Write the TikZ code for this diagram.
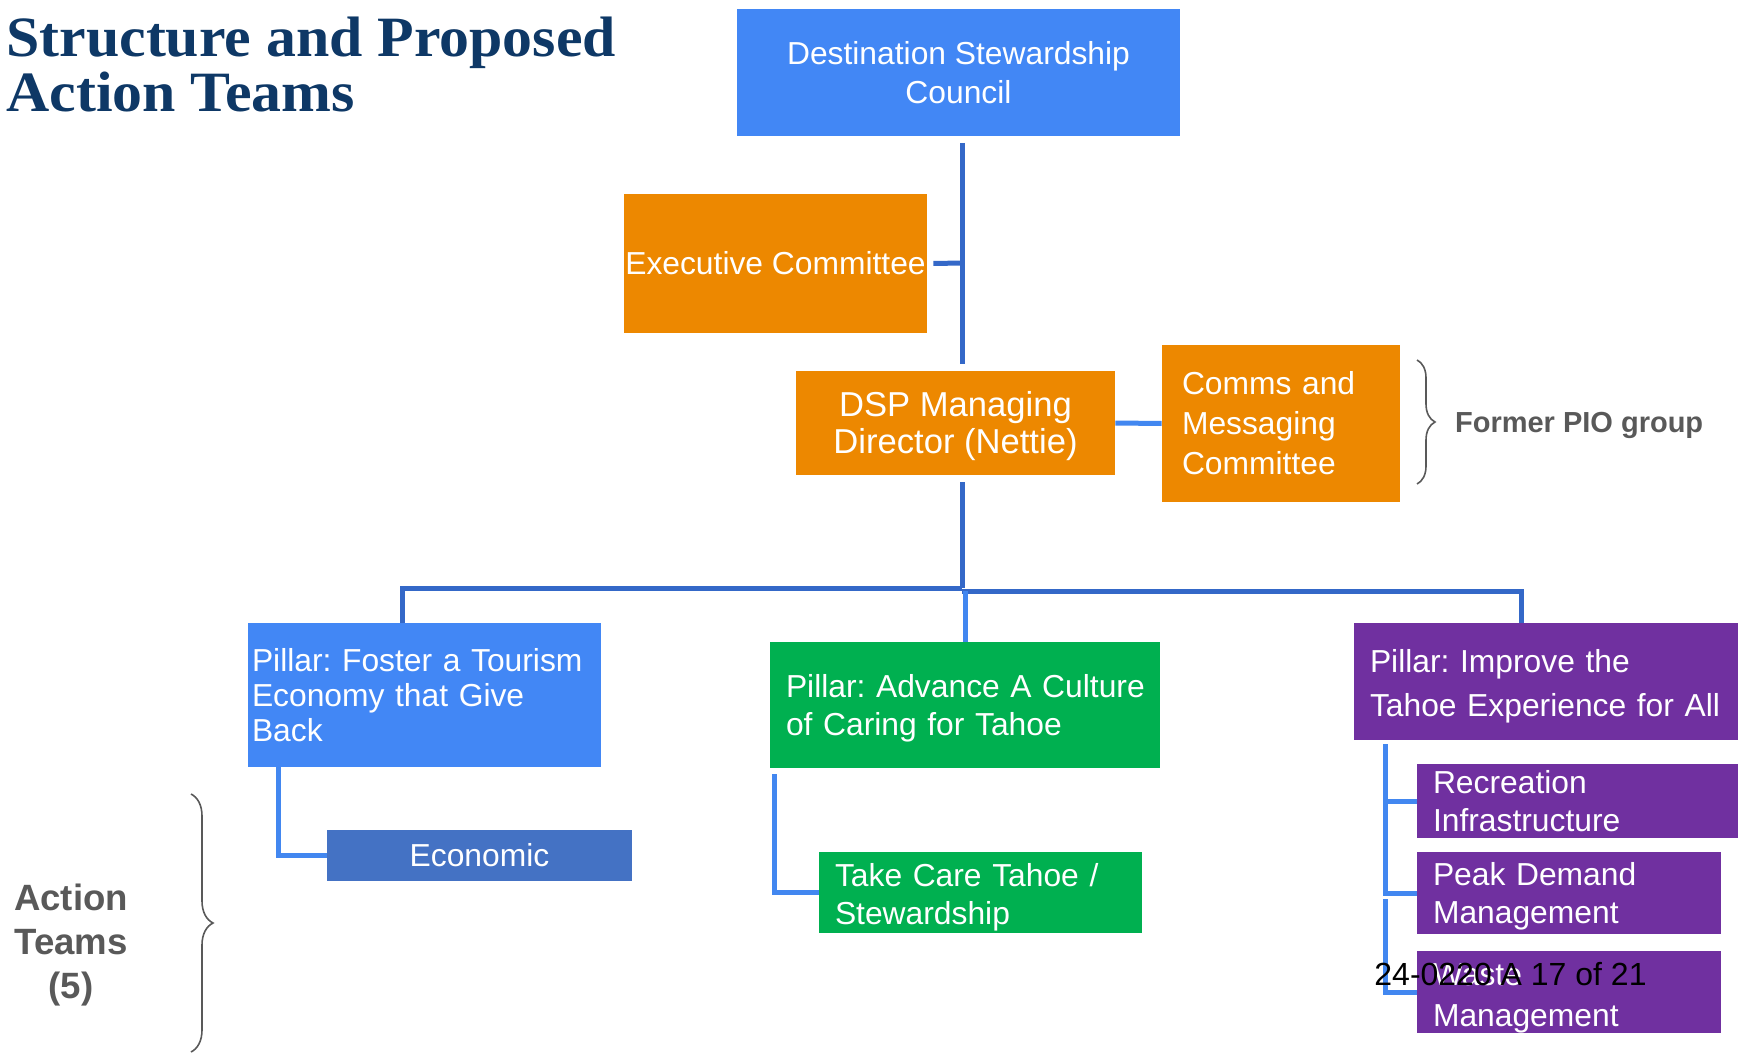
\documentclass[tikz,border=0pt]{standalone}
\usepackage{fontspec}
\setmainfont{Liberation Sans}
\newfontfamily\titlefont[FakeStretch=1.05]{Liberation Serif}
\usetikzlibrary{decorations.pathreplacing}
\definecolor{councilblue}{RGB}{66,135,245}
\definecolor{dsporange}{RGB}{237,136,0}
\definecolor{pillargreen}{RGB}{0,176,80}
\definecolor{pillarpurple}{RGB}{112,48,160}
\definecolor{teamblue}{RGB}{68,114,196}
\definecolor{linedark}{RGB}{52,104,200}
\definecolor{linelight}{RGB}{66,135,240}
\definecolor{titlenavy}{RGB}{14,56,102}
\definecolor{notegray}{RGB}{89,89,89}
\begin{document}
\frenchspacing
\begin{tikzpicture}[x=0.5pt, y=-0.5pt,
  box/.style={rectangle, inner sep=0pt, text=white, align=center, font=\fontsize{15.9}{19}\selectfont},
  leftbox/.style={box, align=left, inner xsep=8pt},
  conn/.style={draw=linedark, line width=2.5pt},
  connlight/.style={conn, draw=linelight},
  brace/.style={draw=notegray, line width=0.8pt, decorate, decoration={brace, amplitude=#1}},
  note/.style={text=notegray, align=center, font=\bfseries\fontsize{14.5}{17}\selectfont}]
\useasboundingbox (0,0) rectangle (1738,1053);

\node [anchor=base west, text=titlenavy, inner sep=0pt, font=\titlefont\bfseries\fontsize{28.5}{30}\selectfont] (title1) at (6,57) {Structure and Proposed};
\node [anchor=base west, text=titlenavy, inner sep=0pt, font=\titlefont\bfseries\fontsize{28.5}{30}\selectfont] (title2) at (6,112) {Action Teams};

\node [box, fill=councilblue, minimum width=221.5pt, minimum height=63.5pt, font=\fontsize{15.9}{19.5}\selectfont] (council) at (958.5,72.5) {Destination Stewardship\\Council};
\node [box, fill=dsporange, minimum width=151.5pt, minimum height=69.5pt] (exec) at (775.5,263.5) {Executive Committee};
\node [box, fill=dsporange, minimum width=159.5pt, minimum height=52pt, font=\fontsize{17.3}{18.5}\selectfont] (dsp) at (955.5,423) {\rule{0pt}{15.5pt}DSP Managing\\Director (Nettie)};
\node [leftbox, fill=dsporange, text width=99pt, inner xsep=10pt, minimum height=78.5pt, font=\fontsize{15.9}{20}\selectfont] (comms) at (1281,423.5) {Comms and\\Messaging\\Committee};

\node [leftbox, fill=councilblue, text width=172.5pt, inner xsep=2pt, minimum height=72pt, font=\fontsize{15.9}{17.5}\selectfont] (foster) at (424.5,695) {Pillar: Foster a Tourism\\Economy that Give\\Back};
\node [box, fill=teamblue, minimum width=152.5pt, minimum height=25.5pt] (economic) at (479.5,855.5) {Economic};

\node [leftbox, fill=pillargreen, text width=179pt, minimum height=63pt] (advance) at (965,705) {\rule{0pt}{15pt}\mbox{Pillar: Advance A Culture}\\of Caring for Tahoe};
\node [leftbox, fill=pillargreen, text width=145.5pt, minimum height=40.5pt] (takecare) at (980.5,892.5) {\rule{0pt}{16pt}Take Care Tahoe /\\Stewardship};

\node [leftbox, fill=pillarpurple, text width=176pt, minimum height=58.5pt, font=\fontsize{15.9}{22}\selectfont] (improve) at (1546,681.5) {\rule{0pt}{16pt}Pillar: Improve the\\\mbox{Tahoe Experience for All}};
\node [leftbox, fill=pillarpurple, text width=144.5pt, minimum height=37pt] (recreation) at (1577.5,801) {Recreation\\Infrastructure};
\node [leftbox, fill=pillarpurple, text width=136pt, minimum height=41pt] (peak) at (1569,893) {\rule{0pt}{15pt}Peak Demand\\Management};
\node [leftbox, fill=pillarpurple, text width=136pt, minimum height=41pt, font=\fontsize{15.9}{20.5}\selectfont] (waste) at (1569,992) {\rule{0pt}{17pt}Waste\\Management};

\coordinate (trunktop) at (962,143);
\coordinate (execjoin) at (962,263);
\coordinate (trunkbot) at (962,364);
\coordinate (hub) at (962,588);
\coordinate (leftdrop) at (402,588);
\coordinate (rightdrop) at (1521,591);
\coordinate (impleg) at (1385,744);

\draw [conn] (trunktop) -- (trunkbot);
\draw [conn] ([xshift=3pt]exec.east) -- (execjoin);
\draw [conn] ([yshift=-3.5pt]dsp.south -| hub) -- (hub);
\draw [connlight] (dsp.east) -- (comms.west);
\draw [conn] (hub) -- (leftdrop) -- (leftdrop |- foster.north);
\draw [conn] (hub |- rightdrop) -- (rightdrop) -- (rightdrop |- improve.north);
\draw [connlight] (advance.north |- rightdrop) -- (advance.north);

\draw [connlight] ([xshift=15.5pt]foster.south west) |- (economic.west);
\draw [connlight] ([xshift=2.5pt,yshift=-3pt]advance.south west) |- (takecare.west);
\draw [connlight] (impleg) |- (peak.west);
\draw [connlight] (impleg |- recreation.west) -- (recreation.west);
\draw [connlight] ([yshift=-3pt]impleg |- peak.west) |- (waste.west);

\draw [brace=9pt] (1417,360) -- (1417,484);
\node [note, anchor=west] (pio) at (1448,425) {Former PIO group};
\draw [brace=11pt] (191,794) -- (191,1052);
\node [note, font=\bfseries\fontsize{18.3}{22}\selectfont] (teams) at (71,945) {Action\\Teams\\(5)};

\node [anchor=base west, inner sep=0pt, font=\fontsize{16}{19}\selectfont] (pageref) at (1374,985) {24-0220 A 17 of 21};
\end{tikzpicture}
\end{document}
